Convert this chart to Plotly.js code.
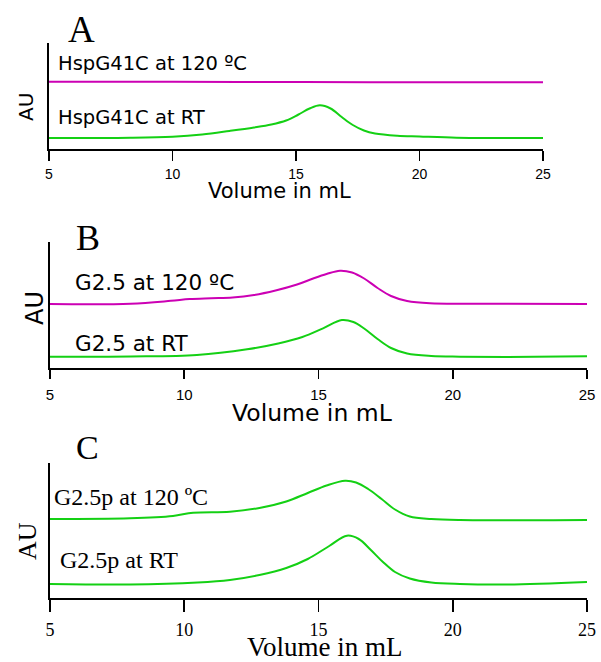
<!DOCTYPE html>
<html>
<head>
<meta charset="utf-8">
<script src="https://cdn.plot.ly/plotly-3.0.1.min.js"></script>
<style>html,body{margin:0;padding:0;background:#fff;}#chart{width:601px;height:662px;}</style>
</head>
<body>
<div id="chart"></div>
<script>
// ---- Data (volume in mL, absorbance in arbitrary units) ----
const tickVals = [5, 10, 15, 20, 25];
const tickText = ["5", "10", "15", "20", "25"];

// Panel A
const volA120 = [5, 10, 14, 18, 25];
const auA120  = [6.72, 6.72, 6.70, 6.68, 6.68];
const volART = [5, 8.3, 10, 11.2, 12.3, 13.3, 14.0, 14.6, 15.1, 15.55, 15.97, 16.4, 16.85, 17.3, 17.75, 18.2, 19.1, 20, 21.5, 23, 25];
const auART  = [1.1, 1.13, 1.23, 1.45, 1.8, 2.15, 2.45, 2.85, 3.45, 4.05, 4.37, 4.05, 3.2, 2.4, 1.85, 1.55, 1.33, 1.25, 1.13, 1.1, 1.1];

// Panel B
const volB120 = [5, 8, 9.5, 10.2, 11, 11.8, 12.6, 13.4, 14.2, 14.8, 15.3, 15.8, 16.25, 16.7, 17.2, 17.7, 18.3, 19.15, 21, 25];
const auB120  = [6.4, 6.43, 6.72, 6.9, 6.98, 7.05, 7.3, 7.75, 8.35, 8.95, 9.4, 9.73, 9.55, 8.95, 8.0, 7.2, 6.7, 6.47, 6.43, 6.4];
const volBRT = [5, 8, 10.47, 12.34, 13.5, 14.4, 15.17, 15.87, 16.3, 16.7, 17.2, 17.7, 18.3, 19.2, 20.27, 22, 25];
const auBRT  = [1.13, 1.15, 1.3, 1.87, 2.45, 3.1, 3.97, 4.8, 4.6, 3.95, 2.9, 2.0, 1.45, 1.2, 1.13, 1.1, 1.17];

// Panel C
const volC120 = [5, 7.98, 9.58, 10.33, 11.7, 12.8, 13.8, 14.6, 15.3, 15.99, 16.4, 16.85, 17.35, 17.85, 18.4, 19.2, 20.27, 25];
const auC120  = [7.9, 7.97, 8.2, 8.53, 8.63, 9.0, 9.65, 10.5, 11.25, 11.73, 11.55, 10.9, 9.9, 8.85, 8.15, 7.9, 7.8, 7.8];
const volCRT = [5, 7.98, 10.5, 11.7, 12.8, 13.8, 14.6, 15.4, 16.06, 16.5, 16.95, 17.4, 17.85, 18.4, 19.2, 20.27, 22, 25];
const auCRT  = [1.4, 1.35, 1.55, 1.8, 2.3, 3.0, 3.9, 5.2, 6.23, 5.9, 4.8, 3.6, 2.6, 1.95, 1.55, 1.4, 1.35, 1.6];

const seriesLabels = {
  a120: "HspG41C at 120 ºC", aRT: "HspG41C at RT",
  b120: "G2.5 at 120 ºC", bRT: "G2.5 at RT",
  c120: "G2.5p at 120 ºC", cRT: "G2.5p at RT"
};
const panelLetters = ["A", "B", "C"];
const xTitle = "Volume in mL";
const yTitle = "AU";

// ---- Styles ----
const W = 601, H = 662;
const MAGENTA = "#cc00b4";
const GREEN = "#14d014";
const SANS = "DejaVu Sans, Liberation Sans, Arial, sans-serif";
const TICKSANS = "Liberation Sans, Arial, sans-serif";
const SERIF = "Liberation Serif, Times New Roman, serif";

function px(x) { return x / W; }
function py(y) { return 1 - y / H; }

function line(x, y, color, xa, ya) {
  return { x: x, y: y, type: "scatter", mode: "lines", xaxis: xa, yaxis: ya,
    line: { color: color, width: 2, shape: "spline", smoothing: 1 },
    hoverinfo: "skip", showlegend: false };
}

const data = [
  line(volA120, auA120, MAGENTA, "x", "y"),
  line(volART, auART, GREEN, "x", "y"),
  line(volB120, auB120, MAGENTA, "x2", "y2"),
  line(volBRT, auBRT, GREEN, "x2", "y2"),
  line(volC120, auC120, GREEN, "x3", "y3"),
  line(volCRT, auCRT, GREEN, "x3", "y3")
];

function xaxisDef(l, r, anchor, ticklen, font, standoff) {
  return { domain: [px(l), px(r)], anchor: anchor, range: [5, 25], showgrid: false, zeroline: false,
    showline: true, linecolor: "#000", linewidth: 2, ticks: "outside", ticklen: ticklen, tickwidth: 1.8,
    tickcolor: "#000", tickmode: "array", tickvals: tickVals, ticktext: tickText,
    tickfont: font, ticklabelstandoff: standoff, fixedrange: true };
}
function yaxisDef(top, bottom, anchor, range) {
  return { domain: [py(bottom), py(top)], anchor: anchor, range: range, showgrid: false, zeroline: false,
    showline: true, linecolor: "#000", linewidth: 2, ticks: "", showticklabels: false, fixedrange: true };
}

function ann(text, x, y, font, opts) {
  return Object.assign({ text: text, x: px(x), y: py(y), xref: "paper", yref: "paper",
    showarrow: false, xanchor: "left", yanchor: "middle", font: font, borderpad: 0 }, opts || {});
}

const layout = {
  width: W, height: H, margin: { l: 0, r: 0, t: 0, b: 0 },
  paper_bgcolor: "#fff", plot_bgcolor: "#fff", showlegend: false,
  xaxis: xaxisDef(49, 543, "y", 10, { family: TICKSANS, size: 14, color: "#000" }, 1),
  yaxis: yaxisDef(43, 149, "x", [0, 10.6]),
  xaxis2: xaxisDef(50, 587, "y2", 9, { family: TICKSANS, size: 15, color: "#000" }, 3),
  yaxis2: yaxisDef(242, 368, "x2", [0, 12.6]),
  xaxis3: xaxisDef(50, 587, "y3", 12, { family: SERIF, size: 18, color: "#000" }, 2),
  yaxis3: yaxisDef(463, 598, "x3", [0, 13.5]),
  annotations: [
    ann(panelLetters[0], 81, 29, { family: SERIF, size: 37, color: "#000" }, { xanchor: "center" }),
    ann(panelLetters[1], 88, 238, { family: SERIF, size: 36, color: "#000" }, { xanchor: "center" }),
    ann(panelLetters[2], 87, 447, { family: SERIF, size: 34, color: "#000" }, { xanchor: "center" }),

    ann(seriesLabels.a120, 57, 63, { family: SANS, size: 19.5, color: "#000" }),
    ann(seriesLabels.aRT, 57, 117, { family: SANS, size: 19.5, color: "#000" }),
    ann(seriesLabels.b120, 74, 283, { family: SANS, size: 21.5, color: "#000" }),
    ann(seriesLabels.bRT, 74, 343, { family: SANS, size: 21.5, color: "#000" }),
    ann(seriesLabels.c120, 53, 497, { family: SERIF, size: 24, color: "#000" }),
    ann(seriesLabels.cRT, 59, 560, { family: SERIF, size: 24, color: "#000" }),

    ann(xTitle, 279, 191, { family: SANS, size: 21, color: "#000" }, { xanchor: "center" }),
    ann(xTitle, 312, 413, { family: SANS, size: 23.5, color: "#000" }, { xanchor: "center" }),
    ann(xTitle, 325, 647, { family: SERIF, size: 27, color: "#000" }, { xanchor: "center" }),

    ann(yTitle, 26, 107, { family: SANS, size: 20, color: "#000" }, { xanchor: "center", textangle: -90 }),
    ann(yTitle, 35, 308, { family: SANS, size: 24, color: "#000" }, { xanchor: "center", textangle: -90 }),
    ann(yTitle, 27, 541, { family: SERIF, size: 26, color: "#000" }, { xanchor: "center", textangle: -90 })
  ]
};

Plotly.newPlot("chart", data, layout, { staticPlot: true, displayModeBar: false });
</script>
</body>
</html>
